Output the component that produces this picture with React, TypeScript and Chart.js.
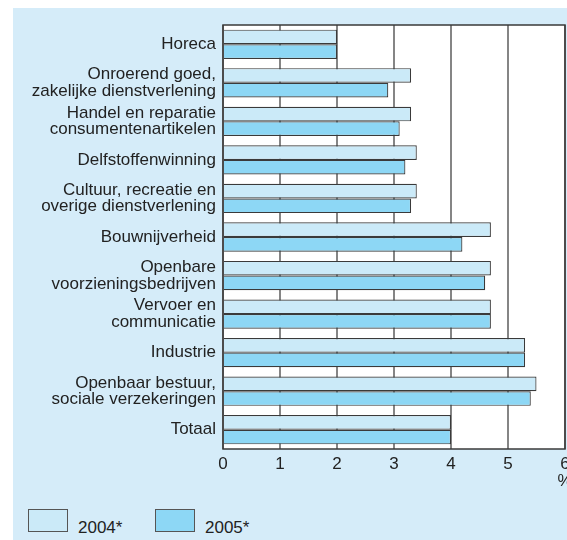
import React, { useEffect, useRef } from "react";
import { Chart, registerables } from "chart.js";

Chart.register(...registerables);

const categories: string[][] = [
  ["Horeca"],
  ["Onroerend goed,", "zakelijke dienstverlening"],
  ["Handel en reparatie", "consumentenartikelen"],
  ["Delfstoffenwinning"],
  ["Cultuur, recreatie en", "overige dienstverlening"],
  ["Bouwnijverheid"],
  ["Openbare", "voorzieningsbedrijven"],
  ["Vervoer en", "communicatie"],
  ["Industrie"],
  ["Openbaar bestuur,", "sociale verzekeringen"],
  ["Totaal"],
];
const values2004: number[] = [2.0, 3.3, 3.3, 3.4, 3.4, 4.7, 4.7, 4.7, 5.3, 5.5, 4.0];
const values2005: number[] = [2.0, 2.9, 3.1, 3.2, 3.3, 4.2, 4.6, 4.7, 5.3, 5.4, 4.0];
const seriesLabels = ["2004*", "2005*"];
const unitLabel = "%";

const FONT = "'Liberation Sans', Arial, Helvetica, sans-serif";
const BG = "#d5ecf9";
const C2004 = "#cbeaf8";
const C2005 = "#8dd7f5";
const BORDER = "#3a3a3a";

const plotFrame = {
  id: "plotFrame",
  beforeDraw(chart: any) {
    const { ctx, chartArea: a } = chart;
    ctx.save();
    ctx.fillStyle = "#ffffff";
    ctx.fillRect(a.left, a.top, a.right - a.left, a.bottom - a.top);
    ctx.restore();
  },
  afterDraw(chart: any) {
    const { ctx, chartArea: a } = chart;
    ctx.save();
    ctx.strokeStyle = BORDER;
    ctx.lineWidth = 1.5;
    ctx.strokeRect(a.left, a.top, a.right - a.left, a.bottom - a.top);
    ctx.restore();
  },
};

export default function App() {
  const ref = useRef<HTMLCanvasElement | null>(null);

  useEffect(() => {
    if (!ref.current) return;
    const chart = new Chart(ref.current, {
      type: "bar",
      data: {
        labels: categories,
        datasets: [
          {
            label: seriesLabels[0],
            data: values2004,
            backgroundColor: C2004,
            borderColor: BORDER,
            borderWidth: 1.2,
          },
          {
            label: seriesLabels[1],
            data: values2005,
            backgroundColor: C2005,
            borderColor: BORDER,
            borderWidth: 1.2,
          },
        ],
      },
      options: {
        indexAxis: "y",
        responsive: false,
        animation: false,
        devicePixelRatio: 1,
        datasets: { bar: { categoryPercentage: 0.76, barPercentage: 1.0 } },
        layout: { padding: { left: 0, right: 28, top: 17, bottom: 0 } },
        plugins: { legend: { display: false }, tooltip: { enabled: false } },
        scales: {
          x: {
            min: 0,
            max: 6,
            border: { display: false },
            grid: { color: "#858585", lineWidth: 2, drawTicks: false },
            ticks: {
              stepSize: 1,
              padding: 6,
              color: "#222",
              font: { family: FONT, size: 17, lineHeight: 1.05 },
              callback: (v: any) => (Number(v) === 6 ? [String(v), unitLabel] : String(v)),
            },
            afterFit: (s: any) => {
              s.height = 49;
            },
          },
          y: {
            border: { display: false },
            grid: { display: false, drawTicks: false },
            ticks: {
              padding: 7,
              color: "#222",
              font: { family: FONT, size: 17, lineHeight: 0.98 },
            },
            afterFit: (s: any) => {
              s.width = 210;
            },
          },
        },
      },
      plugins: [plotFrame],
    } as any);
    return () => chart.destroy();
  }, []);

  const box = (left: number, color: string): React.CSSProperties => ({
    position: "absolute",
    left,
    top: 501,
    width: 40,
    height: 23,
    boxSizing: "border-box",
    border: "1.5px solid #555",
    background: color,
  });
  const txt = (left: number): React.CSSProperties => ({
    position: "absolute",
    left,
    top: 511,
    fontFamily: FONT,
    fontSize: 17,
    lineHeight: "17px",
    color: "#222",
    whiteSpace: "nowrap",
  });

  return (
    <div style={{ position: "absolute", left: 0, top: 0, width: 567, height: 540, background: "#fff", overflow: "hidden" }}>
      <div style={{ position: "absolute", left: 13, top: 8, width: 554, height: 532, background: BG, overflow: "hidden" }}>
        <canvas ref={ref} width={580} height={490} style={{ position: "absolute", left: 0, top: 0, width: 580, height: 490 }} />
        <div style={box(15, C2004)} />
        <div style={txt(65)}>{seriesLabels[0]}</div>
        <div style={box(142, C2005)} />
        <div style={txt(192)}>{seriesLabels[1]}</div>
      </div>
    </div>
  );
}
